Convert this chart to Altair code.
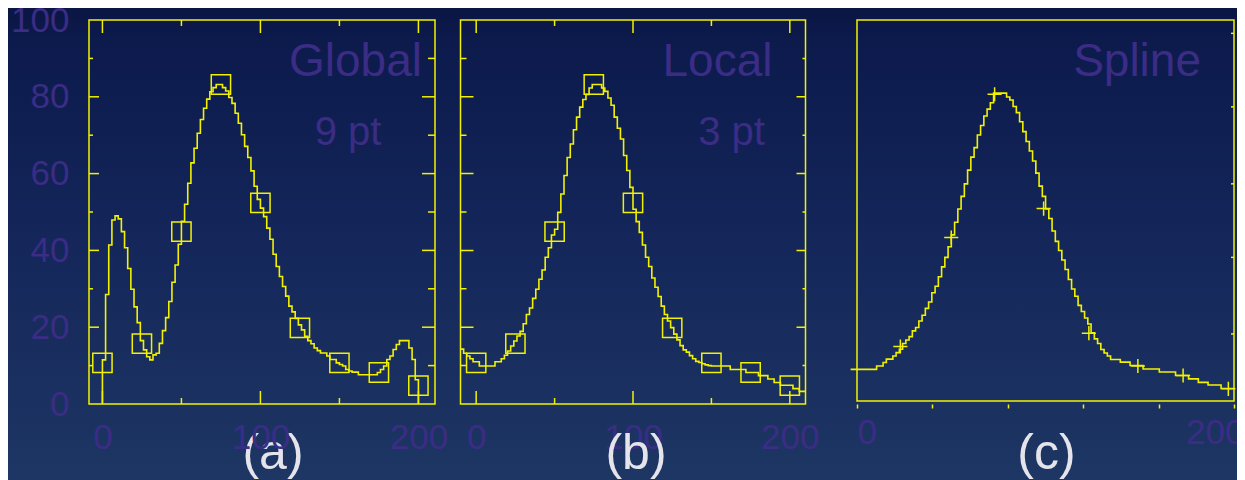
import altair as alt
import pandas as pd

# ---------------- data ----------------
# (a) Global 9 pt : histogram, bins of width 2 starting at 0
a_start, a_bin = 0, 2
a_vals = [11.5, 28.5, 41.4, 47.9, 49.0, 48.2, 44.9, 40.7, 35.3, 29.9,
          25.3, 21.2, 16.5, 14.1, 12.3, 11.5, 12.8, 13.2, 15.8, 19.1,
          22.5, 26.7, 31.7, 36.2, 41.6, 47.6, 52.0, 57.5, 62.8, 66.6,
          70.5, 74.1, 77.0, 79.4, 81.3, 82.4, 83.2, 83.2, 82.4, 81.5,
          79.8, 78.3, 75.7, 73.1, 70.1, 67.1, 64.2, 60.7, 56.7, 53.3,
          51.0, 48.8, 45.8, 42.9, 39.0, 35.8, 33.2, 30.6, 28.1, 25.5,
          24.0, 22.3, 20.6, 19.3, 17.6, 16.5, 15.7, 14.6, 13.9, 13.3,
          13.3, 12.5, 11.6, 11.6, 10.7, 10.3, 9.9, 9.0, 8.6, 8.3,
          8.3, 7.6, 7.6, 7.6, 7.6, 7.6, 7.6, 8.2, 9.0, 9.9,
          11.6, 12.5, 14.2, 15.5, 16.5, 16.5, 16.5, 14.6, 11.6, 6.3]

# (b) Local 3 pt : bins of width 2 starting at -10
b_start, b_bin = -10, 2
b_vals = [14.3, 13.2, 12.5, 11.8, 11.0,
          11.0, 9.9, 9.9, 9.9, 9.9, 9.9, 11.0, 11.0, 11.8, 12.7,
          13.8, 15.1, 16.4, 17.7, 18.9, 20.9, 23.3, 25.0, 27.5, 29.9,
          32.5, 34.9, 38.2, 40.7, 44.0,
          45.5, 49.9, 54.7, 59.5, 64.2, 67.7, 71.4, 74.7, 77.3, 79.3,
          80.6, 82.3, 83.2, 83.2, 83.2, 82.3, 81.4, 79.7, 77.8, 74.7,
          71.8, 69.0, 64.7, 60.8, 56.4,
          50.7, 47.5, 44.7, 41.4, 38.2, 35.8, 32.8, 30.4, 28.0, 25.5,
          23.3, 21.6, 19.9, 18.2, 16.7, 15.2, 14.1, 13.5, 12.6, 11.8,
          11.1, 10.8, 10.5, 10.2, 10.0, 9.9, 9.9, 9.9, 9.9, 9.9,
          9.9, 9.0, 9.0, 9.0, 9.0, 9.0, 8.2, 8.2, 8.2, 8.2,
          7.4, 7.4, 7.4, 6.5, 6.5, 5.6, 5.6, 4.9, 4.9, 4.9,
          4.9, 4.0, 4.0, 3.3, 3.3]

# (c) Spline : narrower bins starting just left of 0
c_start, c_bin = -3.4, 1.724
c_vals = [8.3, 8.3, 8.3, 8.3, 8.3, 8.3, 8.3, 8.3,
          9.2, 9.2, 10.1, 11.0, 11.0, 11.8, 12.7, 13.6, 15.1, 16.0,
          16.9, 18.4, 19.3, 21.0, 22.5, 24.3, 26.0, 28.4, 30.1, 32.6,
          35.2, 37.7, 40.5, 43.6, 46.9, 50.4, 53.7, 57.0, 60.6, 64.0,
          66.5, 69.8, 72.3, 74.8, 76.6, 78.3, 80.8, 80.8, 80.8, 80.8,
          79.8, 79.0, 77.3, 75.7, 73.3, 70.7, 68.1, 65.6, 63.0, 59.8,
          56.4, 53.7, 50.4,
          47.9, 44.6, 41.9, 39.5, 37.0, 34.5, 31.9, 29.4, 27.5, 25.1,
          23.5, 21.8, 20.2, 17.9, 16.3, 15.1, 13.5, 12.6, 11.8,
          10.9, 10.9, 10.9, 10.2, 10.2, 10.2, 9.3, 9.3, 9.3, 9.3,
          8.4, 8.4, 8.4, 8.4, 8.4, 7.6, 7.6, 7.6, 7.6, 7.6,
          6.7, 6.7, 6.7, 6.7, 5.8, 5.8, 5.8, 4.9, 4.9, 4.9,
          4.2, 4.2, 4.2, 4.2, 3.3, 3.3, 3.3, 3.3]

# fit points (squares in a and b)
pt_x = [0, 25, 50, 75, 100, 125, 150, 175, 200]
pt_y = [10.7, 15.7, 44.9, 83.2, 52.4, 19.8, 10.7, 8.2, 4.8]

# spline knots (crosses in c)
sp_x = [23, 50, 73, 99, 123, 149, 173, 197]
sp_y = [14.3, 42.9, 80.5, 50.5, 17.8, 9.2, 6.7, 3.2]

# tick / label values
xlab = [0, 100, 200]
xmaj = [0, 100, 200]
xmin_ = [50, 150]
ylab = [0, 20, 40, 60, 80, 100]
ymaj = [20, 40, 60, 80]
ymin_ = [10, 30, 50, 70, 90]
c_xt = [0, 40, 80, 120, 160, 200]
c_yt = [17.6, 37.7, 57.0, 77.2, 96.5]

# ---------------- style ----------------
FONT = "Liberation Sans"
YEL = "#f2f200"
PURPLE = "#3b2c85"
CAP = "#e4e4ea"
YD = [0, 100]


def steps(start, bw, vals, drop_start=False, drop_end=False):
    xs, ys = [], []
    if drop_start:
        xs.append(start); ys.append(0)
    for i, v in enumerate(vals):
        xs.append(start + i * bw); ys.append(v)
    end = start + len(vals) * bw
    xs.append(end); ys.append(vals[-1])
    if drop_end:
        xs.append(end); ys.append(0)
    return pd.DataFrame({"x": xs, "y": ys, "o": list(range(len(xs)))})


one = pd.DataFrame({"k": [0]})


def label_axis(values, pad, **kw):
    return alt.Axis(values=values, domain=False, ticks=False, tickSize=0, grid=False,
                    labelFont=FONT, labelFontSize=35, labelColor=PURPLE,
                    labelPadding=pad, title=None, labelFlush=False,
                    labelOverlap=False, **kw)


def build_panel(W, H, xdom, xaxis, yaxis, curve, marks_df, mshape, msize,
                ticks, texts, caption, cap_x, bg=False, inset=0):
    sx = alt.Scale(domain=xdom, nice=False, zero=False)
    sy = alt.Scale(domain=YD, nice=False, zero=False)

    def X():
        return alt.X("x:Q", scale=sx, axis=xaxis)

    def Y():
        return alt.Y("y:Q", scale=sy, axis=yaxis)

    layers = []
    if bg:
        grad = alt.LinearGradient(
            gradient="linear", x1=0, x2=0, y1=0, y2=1,
            stops=[alt.GradientStop(color="#09143f", offset=0),
                   alt.GradientStop(color="#0c1a4c", offset=0.1),
                   alt.GradientStop(color="#14265a", offset=0.5),
                   alt.GradientStop(color="#1e3764", offset=1)])
        layers.append(alt.Chart(one).mark_rect(fill=grad, strokeWidth=0).encode(
            x=alt.value(-100), x2=alt.value(1180), y=alt.value(-30), y2=alt.value(470)))
    layers.append(alt.Chart(one).mark_rect(fillOpacity=0, stroke=YEL, strokeWidth=1.5).encode(
        x=alt.value(inset), x2=alt.value(W), y=alt.value(0), y2=alt.value(H)))
    for (xs, ys, orient, length) in ticks:
        df = pd.DataFrame({"x": xs, "y": ys})
        layers.append(alt.Chart(df).mark_tick(orient=orient, size=2 * length, thickness=1.5,
                                              color=YEL, clip=True, opacity=1).encode(x=X(), y=Y()))
    layers.append(alt.Chart(curve).mark_line(interpolate="step-after", color=YEL,
                                             strokeWidth=1.6).encode(
        x=X(), y=Y(), order=alt.Order("o:Q")))
    layers.append(alt.Chart(marks_df).mark_point(shape=mshape, filled=False, size=msize,
                                                 color=YEL, strokeWidth=1.5, opacity=1).encode(
        x=X(), y=Y()))
    for (txt, tx, ty, size, align) in texts:
        layers.append(alt.Chart(one).mark_text(text=txt, font=FONT, fontSize=size, color=PURPLE,
                                               align=align, baseline="alphabetic").encode(
            x=alt.value(tx), y=alt.value(ty)))
    layers.append(alt.Chart(one).mark_text(text=caption, font=FONT, fontSize=50, color=CAP,
                                           align="center", baseline="alphabetic").encode(
        x=alt.value(cap_x), y=alt.value(449)))
    return alt.layer(*layers).properties(width=W, height=H)


A_XD = [-8.5, 210.5]
B_XD = [-10, 210]
# panel (c): the plot area starts 26 px before the frame (0 sits on the frame)
C_INSET = 26
C_XD = [-13.8, 200]


def frame_ticks(xdom, lmaj, lmin, rmaj, rmin, tmaj, tmin):
    return [
        ([xdom[0]] * len(ymaj), ymaj, "horizontal", lmaj),
        ([xdom[0]] * len(ymin_), ymin_, "horizontal", lmin),
        ([xdom[1]] * len(ymaj), ymaj, "horizontal", rmaj),
        ([xdom[1]] * len(ymin_), ymin_, "horizontal", rmin),
        (xmaj, [YD[1]] * len(xmaj), "vertical", tmaj),
        (xmin_, [YD[1]] * len(xmin_), "vertical", tmin),
        (xmaj, [YD[0]] * len(xmaj), "vertical", tmaj),
        (xmin_, [YD[0]] * len(xmin_), "vertical", tmin),
    ]


pa = build_panel(
    346, 384, A_XD,
    label_axis(xlab, 16, zindex=1), label_axis(ylab, 20, zindex=1),
    steps(a_start, a_bin, a_vals, drop_start=True, drop_end=True),
    pd.DataFrame({"x": pt_x, "y": pt_y}), "square", 372,
    frame_ticks(A_XD, 10, 4, 13, 7, 13, 6),
    [("Global", 333, 56, 46, "right"), ("9 pt", 259, 125, 40, "center")],
    "(a)", 184, bg=True)

pb = build_panel(
    345, 384, B_XD,
    label_axis(xlab, 16), None,
    steps(b_start, b_bin, b_vals),
    pd.DataFrame({"x": pt_x, "y": pt_y}), "square", 372,
    frame_ticks(B_XD, 13, 6, 9, 3, 13, 6),
    [("Local", 312, 56, 46, "right"), ("3 pt", 271, 125, 40, "center")],
    "(b)", 175.5)

c_axis = alt.Axis(values=c_xt, domain=False, ticks=True, tickSize=4, tickWidth=1.5,
                  tickColor=YEL, offset=3, grid=False,
                  labelExpr="datum.value == 0 || datum.value == 200 ? datum.label : ''",
                  labelAlign={"condition": {"test": "datum.value > 100", "value": "right"},
                              "value": "left"},
                  labelOffset={"condition": {"test": "datum.value > 100", "value": 10},
                               "value": 0},
                  labelFont=FONT, labelFontSize=35, labelColor=PURPLE, labelPadding=7,
                  title=None, labelFlush=False, labelOverlap=False)

pc = build_panel(
    377 + C_INSET, 381, C_XD,
    c_axis, None,
    steps(c_start, c_bin, c_vals),
    pd.DataFrame({"x": sp_x, "y": sp_y}), "M-1,0L1,0M0,-1L0,1", 200,
    [([C_XD[1]] * len(c_yt), c_yt, "horizontal", 3)],
    [("Spline", 344 + C_INSET, 56, 46, "right")],
    "(c)", 189.5 + C_INSET, inset=C_INSET)

chart = alt.hconcat(pa, pb, pc, spacing=25.5, bounds="flush").properties(
    padding={"left": -19, "top": -18, "right": -32, "bottom": -10},
    background="#14265a",
).configure_view(strokeWidth=0, stroke="transparent")

chart.save("out.html", embed_options={"renderer": "svg", "actions": False})
